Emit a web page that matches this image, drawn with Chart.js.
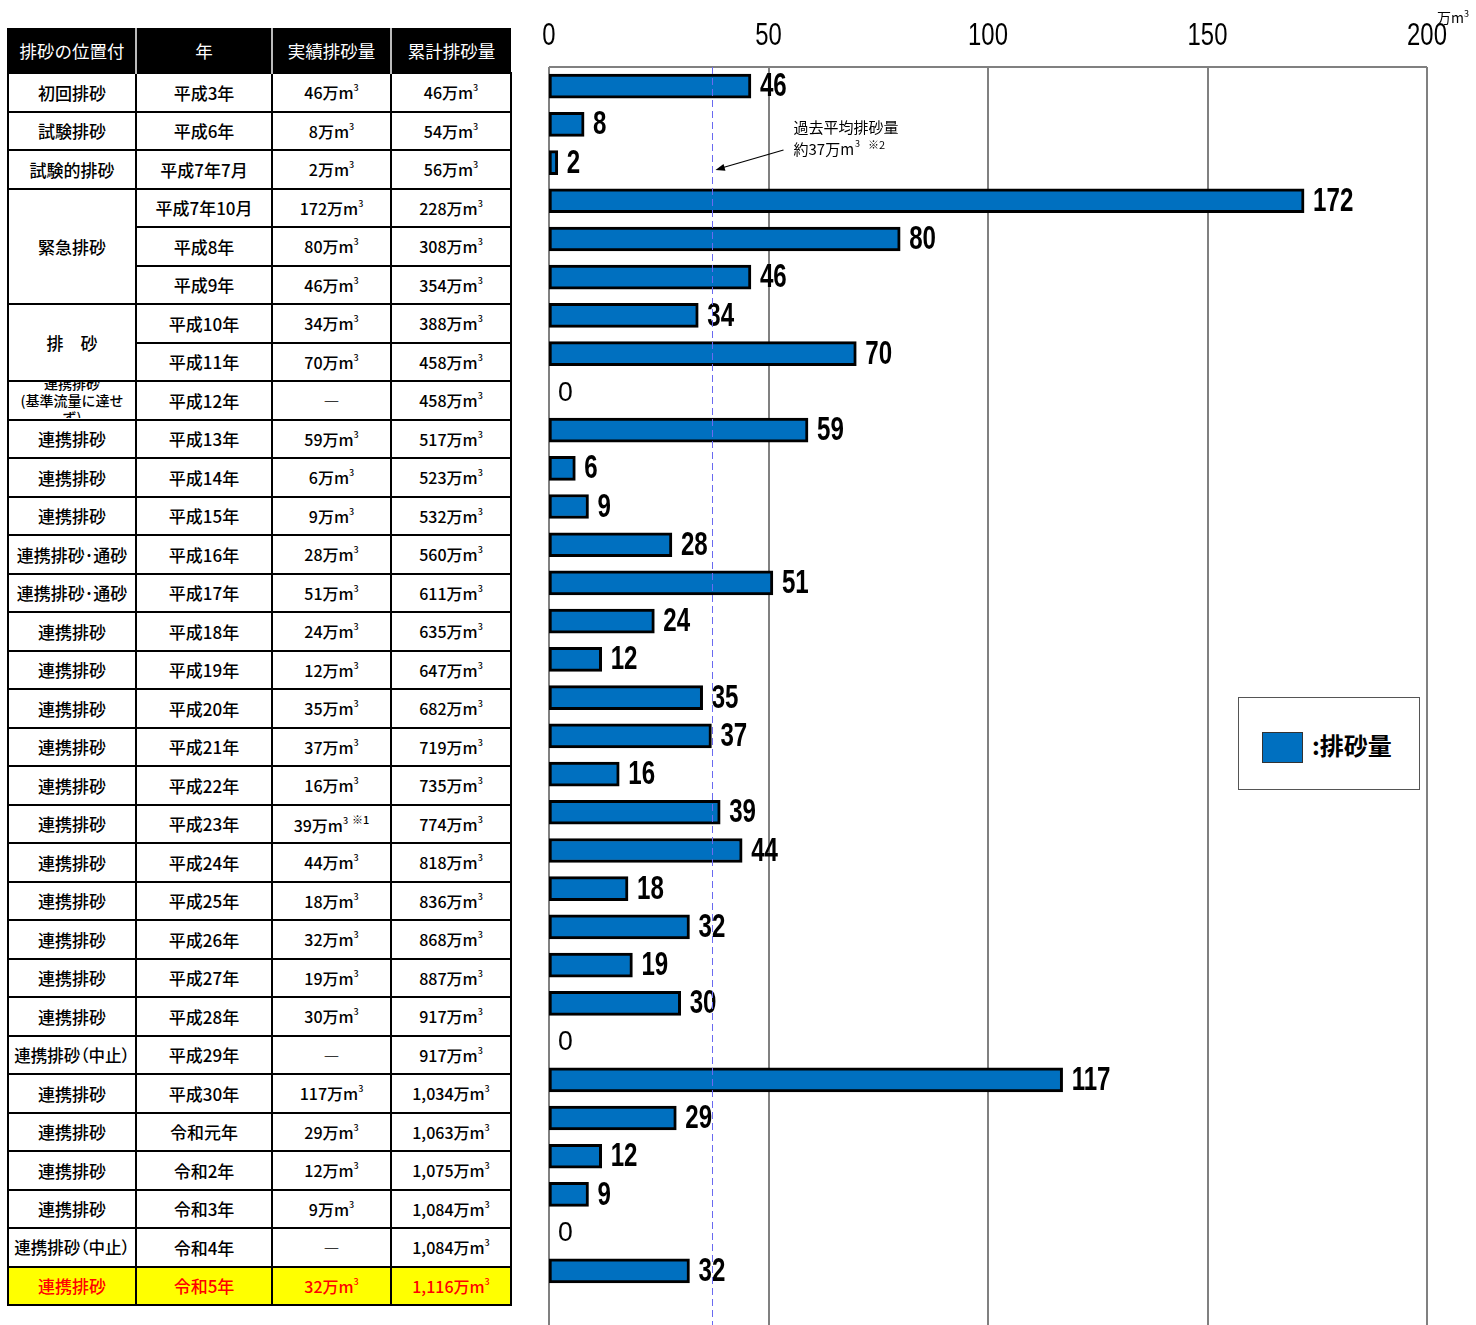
<!DOCTYPE html>
<html>
<head>
<meta charset="utf-8">
<script src="https://cdn.jsdelivr.net/npm/chart.js@4/dist/chart.umd.min.js"></script>
<style>
  body { margin: 0; width: 1476px; height: 1325px; background: #fff; overflow: hidden; position: relative;
         font-family: "Noto Sans CJK JP", sans-serif; }
  #tbl { position: absolute; left: 7px; top: 28px; width: 503px; border-collapse: collapse; table-layout: fixed; }
  #tbl th { height: 44px; background: #000; color: #fff; font-size: 17.5px; font-weight: 400;
            border-left: 2px solid #bbb; padding: 0; }
  #tbl th:first-child { border-left: 2px solid #000; }
  #tbl tr.r { height: 38.5px; }
  #tbl td { border: 2px solid #000; padding: 0; text-align: center; vertical-align: middle;
            font-size: 16px; font-weight: 500; color: #000; white-space: nowrap; overflow: hidden; }
  #tbl td.p, #tbl td.y { font-size: 17px; }
  #tbl td.p.s { font-size: 16.5px; font-feature-settings: "palt"; }
  #tbl td sup { font-size: 9px; vertical-align: 8px; line-height: 0; }
  #tbl td .note { font-size: 11px; vertical-align: 8px; margin-left: 4px; }
  #tbl tr.hl td { background: #ffff00; color: #ff0000; }
  #tbl td .clip { height: 36px; overflow: hidden; display: flex; flex-direction: column;
                  justify-content: center; align-items: center; font-size: 14px; line-height: 17px; white-space: normal; }
  #tbl td .clip div { width: 112px; }
  #c { position: absolute; left: 540px; top: 0; }
  #unit { position: absolute; left: 1437px; top: 7px; font-size: 14px; line-height: 20px; }
  #unit sup { font-size: 9px; vertical-align: 6px; line-height: 0; }
  #legend { position: absolute; left: 1238px; top: 697px; width: 180px; height: 91px;
            border: 1px solid #555; background: #fff; }
  #legend .sw { position: absolute; left: 23px; top: 34px; width: 39px; height: 29px;
                background: #0070c0; border: 1px solid #333; }
  #legend .lt { position: absolute; left: 73px; top: 30px; font-size: 24px; font-weight: 700; line-height: 34px; }
</style>
</head>
<body>
<table id="tbl"></table>
<canvas id="c" width="936" height="1325"></canvas>
<div id="unit">万m<sup>3</sup></div>
<div id="legend"><span class="sw"></span><span class="lt">:排砂量</span></div>
<script>
// table headers
const headers = ['排砂の位置付', '年', '実績排砂量', '累計排砂量'];

// position of each flushing ('' = merged into the cell above)
const positions = ['初回排砂', '試験排砂', '試験的排砂', '緊急排砂', '', '', '排　砂', '',
  '連携排砂\n(基準流量に達せず)', '連携排砂', '連携排砂', '連携排砂', '連携排砂･通砂', '連携排砂･通砂',
  '連携排砂', '連携排砂', '連携排砂', '連携排砂', '連携排砂', '連携排砂', '連携排砂', '連携排砂',
  '連携排砂', '連携排砂', '連携排砂', '連携排砂（中止）', '連携排砂', '連携排砂', '連携排砂', '連携排砂',
  '連携排砂（中止）', '連携排砂'];

const years = ['平成3年', '平成6年', '平成7年7月', '平成7年10月', '平成8年', '平成9年', '平成10年', '平成11年',
  '平成12年', '平成13年', '平成14年', '平成15年', '平成16年', '平成17年', '平成18年', '平成19年',
  '平成20年', '平成21年', '平成22年', '平成23年', '平成24年', '平成25年', '平成26年', '平成27年',
  '平成28年', '平成29年', '平成30年', '令和元年', '令和2年', '令和3年', '令和4年', '令和5年'];

// 万m3
const amounts = [46, 8, 2, 172, 80, 46, 34, 70, 0, 59, 6, 9, 28, 51, 24, 12,
  35, 37, 16, 39, 44, 18, 32, 19, 30, 0, 117, 29, 12, 9, 0, 32];

const cumulative = [46, 54, 56, 228, 308, 354, 388, 458, 458, 517, 523, 532, 560, 611, 635, 647,
  682, 719, 735, 774, 818, 836, 868, 887, 917, 917, 1034, 1063, 1075, 1084, 1084, 1116];

const notes = {19: '※1'};
const xTicks = [0, 50, 100, 150, 200];
const avgAmount = 37;

// ---- table ----
function fmt(v) {
  return v.toLocaleString('en-US') + '万m<sup>3</sup>';
}

const tbl = document.getElementById('tbl');
let html = '<colgroup><col style="width:128px"><col style="width:136px"><col style="width:119px"><col style="width:120px"></colgroup>';
html += '<tr>' + headers.map(h => '<th>' + h + '</th>').join('') + '</tr>';
for (let i = 0; i < years.length; i++) {
  const last = i === years.length - 1;
  html += '<tr class="r' + (last ? ' hl' : '') + '">';
  if (positions[i] !== '') {
    let span = 1;
    while (i + span < positions.length && positions[i + span] === '') span++;
    let txt = positions[i];
    let cls = 'p';
    if (txt.includes('\n')) {
      const parts = txt.split('\n');
      txt = '<div class="clip"><div>' + parts[0] + '</div><div>' + parts[1] + '</div></div>';
    }
    if (txt.includes('（')) cls += ' s';
    html += '<td class="' + cls + '"' + (span > 1 ? ' rowspan="' + span + '"' : '') + '>' + txt + '</td>';
  }
  html += '<td class="y">' + years[i] + '</td>';
  html += '<td>' + (amounts[i] === 0 ? '―' : fmt(amounts[i]) + (notes[i] ? '<span class="note">' + notes[i] + '</span>' : '')) + '</td>';
  html += '<td>' + fmt(cumulative[i]) + '</td>';
  html += '</tr>';
}
tbl.innerHTML = html;

// ---- chart ----
// narrow text: Liberation Sans squeezed horizontally
function narrowText(ctx, text, x, y, font, sx, align) {
  ctx.save();
  ctx.font = font;
  ctx.textAlign = align;
  ctx.textBaseline = 'middle';
  ctx.translate(x, y);
  ctx.scale(sx, 1);
  ctx.fillText(text, 0, 0);
  ctx.restore();
}

const gridExt = {
  id: 'gridExt',
  beforeDatasetsDraw(chart) {
    const {ctx, chartArea, scales: {x}} = chart;
    ctx.save();
    ctx.strokeStyle = '#808080';
    ctx.lineWidth = 2;
    x.ticks.forEach(t => {
      const px = Math.round(x.getPixelForValue(t.value));
      ctx.beginPath();
      ctx.moveTo(px, chartArea.top);
      ctx.lineTo(px, chart.height);
      ctx.stroke();
    });
    ctx.beginPath();
    ctx.moveTo(x.left, chartArea.top);
    ctx.lineTo(x.right, chartArea.top);
    ctx.stroke();
    ctx.fillStyle = '#000';
    x.ticks.forEach(t => {
      narrowText(ctx, String(t.value), x.getPixelForValue(t.value), chartArea.top - 31,
        '400 31px "Liberation Sans", sans-serif', 0.77, 'center');
    });
    ctx.restore();
  }
};

const valueLabels = {
  id: 'valueLabels',
  afterDatasetsDraw(chart) {
    const {ctx} = chart;
    const meta = chart.getDatasetMeta(0);
    ctx.save();
    ctx.fillStyle = '#000';
    meta.data.forEach((el, i) => {
      const v = amounts[i];
      if (v === 0) {
        narrowText(ctx, '0', el.x + 9, el.y + 1, '400 28px "Liberation Sans", sans-serif', 0.95, 'left');
      } else {
        narrowText(ctx, String(v), el.x + 9, el.y + 1, 'bold 33px "Liberation Sans", sans-serif', 0.73, 'left');
      }
    });
    ctx.restore();
  }
};

const avgLine = {
  id: 'avgLine',
  afterDraw(chart) {
    const {ctx, chartArea, scales: {x}} = chart;
    const ax = Math.round(x.getPixelForValue(avgAmount)) + 1.5;
    ctx.save();
    ctx.strokeStyle = '#6a6af0';
    ctx.lineWidth = 1;
    ctx.setLineDash([7, 4]);
    ctx.beginPath();
    ctx.moveTo(ax, chartArea.top);
    ctx.lineTo(ax, chart.height);
    ctx.stroke();
    ctx.setLineDash([]);

    // annotation
    const top = chartArea.top;
    const sx = ax + 71, sy = top + 83, ex = ax + 3, ey = top + 103;
    ctx.strokeStyle = '#000';
    ctx.lineWidth = 1.2;
    ctx.beginPath();
    ctx.moveTo(sx, sy);
    ctx.lineTo(ex + 6, ey - 2);
    ctx.stroke();
    const ang = Math.atan2(ey - sy, ex - sx);
    ctx.fillStyle = '#000';
    ctx.beginPath();
    ctx.moveTo(ex, ey);
    ctx.lineTo(ex - 10 * Math.cos(ang - 0.35), ey - 10 * Math.sin(ang - 0.35));
    ctx.lineTo(ex - 10 * Math.cos(ang + 0.35), ey - 10 * Math.sin(ang + 0.35));
    ctx.closePath();
    ctx.fill();

    const tx = ax + 81;
    ctx.textBaseline = 'middle';
    ctx.font = '15px "Noto Sans CJK JP", sans-serif';
    ctx.fillText('過去平均排砂量', tx, top + 60);
    const t2 = '約' + avgAmount + '万m';
    ctx.fillText(t2, tx, top + 82);
    const w2 = ctx.measureText(t2).width;
    ctx.font = '9px "Noto Sans CJK JP", sans-serif';
    ctx.fillText('3', tx + w2 + 1, top + 77);
    ctx.font = '11px "Noto Sans CJK JP", sans-serif';
    ctx.fillText('※2', tx + w2 + 14, top + 78);
    ctx.restore();
  }
};

new Chart(document.getElementById('c'), {
  type: 'bar',
  data: {
    labels: years,
    datasets: [{
      label: '排砂量',
      data: amounts,
      backgroundColor: '#0070c0',
      borderColor: '#000',
      borderWidth: 3,
      borderSkipped: false,
      barThickness: 24
    }]
  },
  options: {
    indexAxis: 'y',
    responsive: false,
    animation: false,
    devicePixelRatio: 1,
    layout: {padding: {left: 9, right: 49, top: 67, bottom: 35}},
    plugins: {legend: {display: false}, tooltip: {enabled: false}},
    scales: {
      x: {
        position: 'top',
        min: xTicks[0],
        max: xTicks[xTicks.length - 1],
        afterBuildTicks(scale) {
          scale.ticks = xTicks.map(v => ({value: v}));
        },
        grid: {display: false, drawTicks: false},
        border: {display: false},
        ticks: {display: false}
      },
      y: {
        display: false,
        grid: {display: false}
      }
    }
  },
  plugins: [gridExt, valueLabels, avgLine]
});
</script>
</body>
</html>
